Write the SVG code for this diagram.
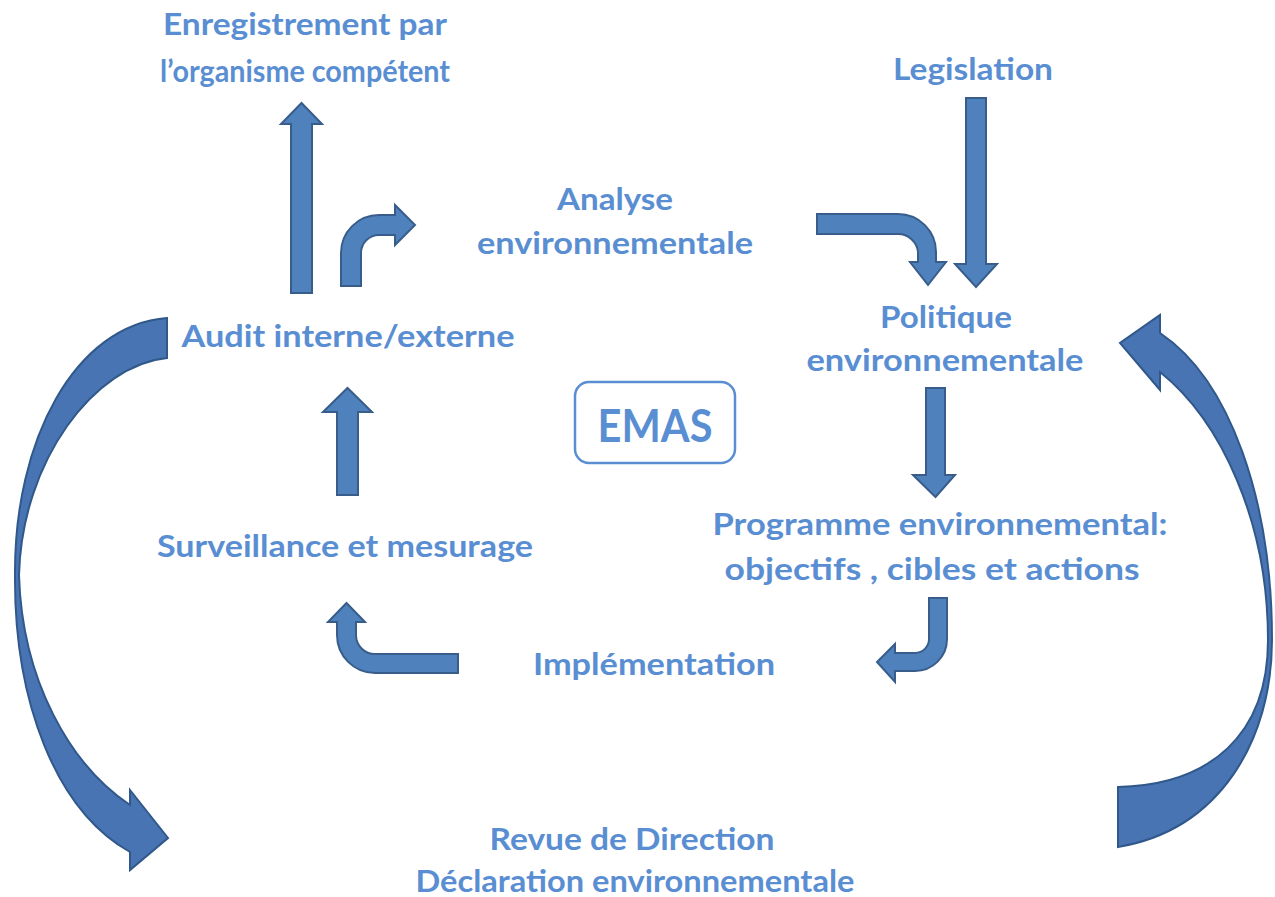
<svg xmlns="http://www.w3.org/2000/svg" width="1275" height="897" viewBox="0 0 1275 897">
<style>
.t{font-family:Lato,"Open Sans","Liberation Sans",sans-serif;font-weight:bold;font-size:31px;fill:#5a8ed2;text-anchor:middle}
.a{fill:#4f81bd;stroke:#385d8a;stroke-width:2;stroke-linejoin:miter}
.c{fill:#4874b3;stroke:#30588a;stroke-width:2;stroke-linejoin:miter}
</style>
<rect width="1275" height="897" fill="#ffffff"/>
<g id="connectors">
<path class="a" d="M291,293 L291,124 L281,124 L301.5,103 L322,124 L312,124 L312,293 Z"/>
<path class="a" d="M341,286 L341,253 A38,38 0 0 1 379,215 L395,215 L395,205 L415,225 L395,245 L395,235 L379,235 A18,18 0 0 0 361,253 L361,286 Z"/>
<path class="a" d="M817,214 L898,214 A38,38 0 0 1 936,252 L936,262 L946,262 L928,285 L910,262 L918,262 L918,252 A20,20 0 0 0 898,234 L817,234 Z"/>
<path class="a" d="M966,98 L986,98 L986,264 L997,264 L976,287 L955,264 L966,264 Z"/>
<path class="a" d="M926,388 L945,388 L945,475 L955,475 L935.5,497 L913,475 L926,475 Z"/>
<path class="a" d="M337,495 L337,412 L323,412 L347.5,388 L372,412 L358,412 L358,495 Z"/>
<path class="a" d="M947,598 L947,639 A32,32 0 0 1 915,671 L895,671 L895,682 L877,662 L895,644 L895,653 L915,653 A14,14 0 0 0 929,639 L929,598 Z"/>
<path class="a" d="M458,654 L458,673 L375,673 A38,38 0 0 1 337,635 L337,622 L328,622 L346.5,603 L365,622 L356,622 L356,635 A19,19 0 0 0 375,654 Z"/>
<path class="c" d="M167,318 L167,358 C95,365 22,460 19,575 C22,680 70,765 130,805 L130,790 L168,838 L130,870 L130,852 C55,810 14,700 15,575 C14,440 75,325 167,318 Z"/>
<path class="c" d="M1118,787 L1118,847 C1220,830 1272,740 1272,640 C1272,500 1230,380 1160,333 L1160,315 L1120,343 L1160,390 L1160,372 C1220,420 1268,520 1268,640 C1268,735 1210,785 1118,787 Z"/>
</g>
<g id="node-enregistrement">
<text class="t" x="305" y="35" textLength="284" lengthAdjust="spacingAndGlyphs">Enregistrement par</text>
<text class="t" x="305" y="82" textLength="290" lengthAdjust="spacingAndGlyphs">l’organisme compétent</text>
</g>
<g id="node-legislation">
<text class="t" x="973" y="80" textLength="160" lengthAdjust="spacingAndGlyphs">Legislation</text>
</g>
<g id="node-analyse">
<text class="t" x="615" y="210" textLength="116" lengthAdjust="spacingAndGlyphs">Analyse</text>
<text class="t" x="615" y="254" textLength="276" lengthAdjust="spacingAndGlyphs">environnementale</text>
</g>
<g id="node-politique">
<text class="t" x="946" y="328" textLength="132" lengthAdjust="spacingAndGlyphs">Politique</text>
<text class="t" x="945" y="371" textLength="277" lengthAdjust="spacingAndGlyphs">environnementale</text>
</g>
<g id="node-audit">
<text class="t" x="348" y="347" textLength="333" lengthAdjust="spacingAndGlyphs">Audit interne/externe</text>
</g>
<g id="node-emas">
<rect x="575" y="382" width="160" height="81" rx="14" ry="14" fill="#ffffff" stroke="#5a8ed2" stroke-width="2.5"/>
<text class="t" x="655" y="442" style="font-size:46px" textLength="115" lengthAdjust="spacingAndGlyphs">EMAS</text>
</g>
<g id="node-surveillance">
<text class="t" x="345" y="557" textLength="376" lengthAdjust="spacingAndGlyphs">Surveillance et mesurage</text>
</g>
<g id="node-programme">
<text class="t" x="940" y="535" textLength="455" lengthAdjust="spacingAndGlyphs">Programme environnemental:</text>
<text class="t" x="932" y="580" textLength="415" lengthAdjust="spacingAndGlyphs">objectifs , cibles et actions</text>
</g>
<g id="node-implementation">
<text class="t" x="654" y="675" textLength="242" lengthAdjust="spacingAndGlyphs">Implémentation</text>
</g>
<g id="node-revue">
<text class="t" x="632" y="850" textLength="285" lengthAdjust="spacingAndGlyphs">Revue de Direction</text>
<text class="t" x="635" y="892" textLength="439" lengthAdjust="spacingAndGlyphs">Déclaration environnementale</text>
</g>
</svg>
